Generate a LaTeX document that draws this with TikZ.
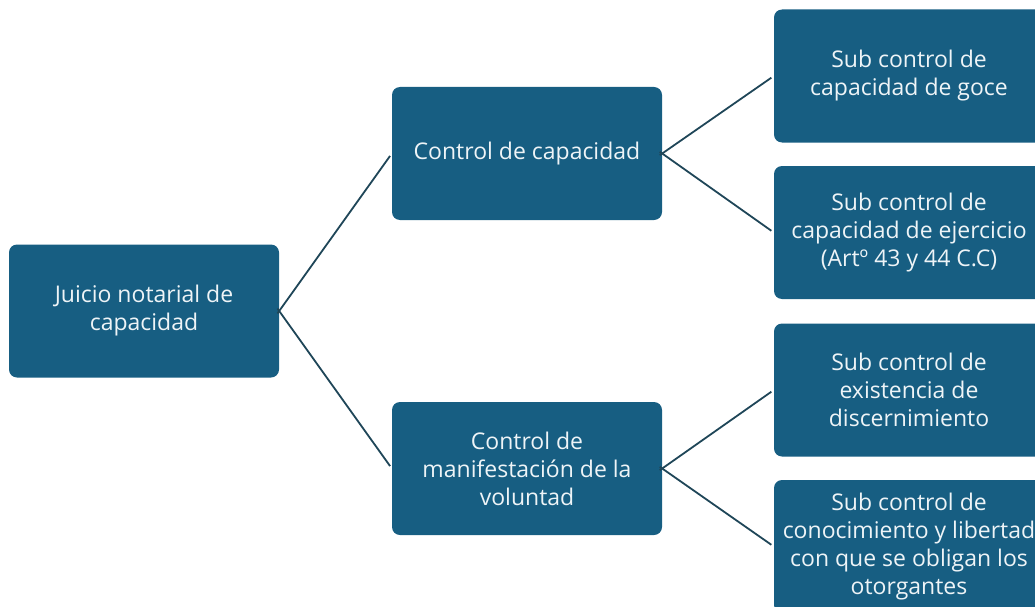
\documentclass[tikz,border=0pt]{standalone}
\usepackage{fontspec}
\setmainfont{Open Sans}
\usepackage{tikz}
\definecolor{azul}{HTML}{175E82}
\definecolor{linea}{HTML}{1F4658}
\definecolor{texto}{HTML}{EEF4F7}
\tikzstyle{caja}=[rectangle, rounded corners=8pt, fill=azul, text=texto, align=center,
  minimum width=270pt, minimum height=133pt, inner sep=0pt,
  font=\fontsize{23}{28}\selectfont]
\newcommand{\caja}{\node[caja]}

\begin{document}
\begin{tikzpicture}[x=1pt, y=-1pt]
    \useasboundingbox (0,0) rectangle (1035,607);
    \clip (0,0) rectangle (1035,607);
    \caja (juicio) at (144,311) {Juicio notarial de\\capacidad};
    \caja (cap) at (527,153.5) {Control de capacidad};
    \caja (man) at (527,468.5) {Control de\\manifestación de la\\voluntad};
    \caja (goce) at (909,76) {Sub control de\\capacidad de goce};
    \caja (ejer) at (909,232.5) {Sub control de\\capacidad de ejercicio\\(Artº 43 y 44 C.C)};
    \caja (disc) at (909,390) {Sub control de\\existencia de\\discernimiento};
    \caja (libr) at (909,546.5) {Sub control de\\conocimiento y libertad\\con que se obligan los\\otorgantes};
    \path[-, draw=linea, line width=1.8pt, shorten <=-3pt, shorten >=3pt]
    (juicio.east) edge (cap.west)
    (juicio.east) edge (man.west)
    (cap.east) edge (goce.west)
    (cap.east) edge (ejer.west)
    (man.east) edge (disc.west)
    (man.east) edge (libr.west);
\end{tikzpicture}
\end{document}
